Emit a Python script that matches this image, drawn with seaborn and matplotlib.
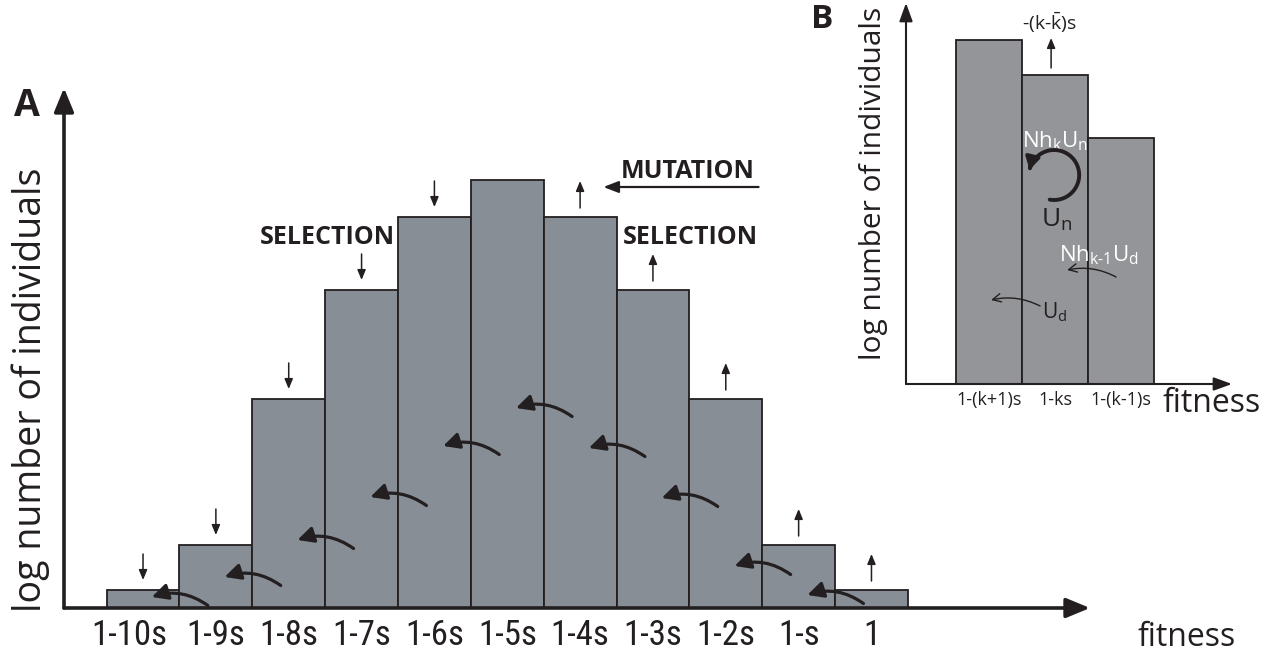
import numpy as np
import pandas as pd
import matplotlib
matplotlib.use('Agg')
import matplotlib.pyplot as plt
import seaborn as sns
from matplotlib.patches import FancyArrowPatch
from matplotlib.path import Path
from matplotlib.transforms import ScaledTranslation
from matplotlib import font_manager as fm

# ---------------- data ----------------
# Panel A
fitness_a = ['1-10s', '1-9s', '1-8s', '1-7s', '1-6s', '1-5s', '1-4s', '1-3s', '1-2s', '1-s', '1']
log_n_a = [1.8, 6.3, 20.9, 31.8, 39.1, 42.8, 39.1, 31.8, 20.9, 6.3, 1.8]
selection_down = [0, 1, 2, 3, 4]
selection_up = [6, 7, 8, 9, 10]
mutation_source = [1, 2, 3, 4, 5, 6, 7, 8, 9, 10]
mutation_height = [1.1, 3.1, 6.8, 11.1, 16.2, 20.0, 16.0, 11.0, 4.2, 1.3]

# Panel B
fitness_b = ['1-(k+1)s', '1-ks', '1-(k-1)s']
log_n_b = [34.45, 30.9, 24.65]

# ---------------- style ----------------
sns.set_style('white')


def has_font(name):
    try:
        fm.findfont(fm.FontProperties(family=name), fallback_to_default=False)
        return True
    except Exception:
        return False


HUM = 'Open Sans' if has_font('Open Sans') else 'DejaVu Sans'

# pick a narrow face for the fitness tick labels
narrow_prop = None
narrow_size = 22
for cand, size in [('Roboto Condensed', 25), ('DejaVu Sans Condensed', 23),
                   ('Liberation Sans Narrow', 24), ('Open Sans Condensed', 24)]:
    if has_font(cand):
        narrow_prop = fm.FontProperties(family=cand)
        narrow_size = size
        break
if narrow_prop is None:
    try:
        f = fm.findfont(fm.FontProperties(family='DejaVu Sans', stretch='condensed'))
        if 'ondensed' in f:
            narrow_prop = fm.FontProperties(fname=f)
            narrow_size = 23
    except Exception:
        pass
if narrow_prop is None:
    narrow_prop = fm.FontProperties(family=HUM)
    narrow_size = 22

plt.rcParams['font.family'] = [HUM, 'DejaVu Sans']
plt.rcParams['mathtext.fontset'] = 'custom'
plt.rcParams['mathtext.rm'] = HUM
plt.rcParams['mathtext.it'] = HUM
plt.rcParams['mathtext.default'] = 'regular'

INK = '#231f20'
BAR_A = '#878e96'
BAR_B = '#939598'

W, H = 1266, 659
fig = plt.figure(figsize=(W / 100, H / 100), dpi=100)
fig.patch.set_facecolor('white')


def fx(px):
    return px / W


def fy(py):
    return 1 - py / H


# ---------------- Panel A ----------------
axA = fig.add_axes([fx(64), fy(608), (1090 - 64) / W, (608 - 88) / H])
axA.set_facecolor('none')
df_a = pd.DataFrame({'fitness': fitness_a, 'log_n': log_n_a})
sns.barplot(data=df_a, x='fitness', y='log_n', order=fitness_a, color=BAR_A,
            saturation=1, edgecolor=INK, linewidth=1.3, width=1.0, ax=axA)
axA.set_xlim(-1.085, 13.0)
axA.set_ylim(0, 52)
for s in axA.spines.values():
    s.set_visible(False)
axA.set_xlabel('')
axA.set_ylabel('')
axA.set_yticks([])
axA.tick_params(axis='x', length=0, pad=8)
for lab in axA.get_xticklabels():
    lab.set_fontproperties(narrow_prop)
    lab.set_fontsize(narrow_size)
    lab.set_color(INK)
first = axA.get_xticklabels()[0]
first.set_transform(first.get_transform() + ScaledTranslation(-0.14, 0, fig.dpi_scale_trans))

axis_style = dict(arrowstyle='-|>,head_length=1.45,head_width=0.6', lw=2.6,
                  color=INK, shrinkA=0, shrinkB=0, mutation_scale=10)
axA.annotate('', xy=(0, 1), xytext=(0, 0), xycoords='axes fraction',
             textcoords='axes fraction', arrowprops=axis_style, annotation_clip=False)
axA.annotate('', xy=(1, 0), xytext=(0, 0), xycoords='axes fraction',
             textcoords='axes fraction', arrowprops=axis_style, annotation_clip=False)

small_arrow = dict(arrowstyle='-|>,head_length=0.6,head_width=0.25', lw=1.1,
                   color=INK, shrinkA=0, shrinkB=0, mutation_scale=10)
for i in selection_down:
    h = log_n_a[i]
    axA.annotate('', xy=(i, h + 1.0), xytext=(i, h + 3.6), arrowprops=small_arrow)
for i in selection_up:
    h = log_n_a[i]
    axA.annotate('', xy=(i, h + 3.6), xytext=(i, h + 0.9), arrowprops=small_arrow)

for src, hy in zip(mutation_source, mutation_height):
    arr = FancyArrowPatch((src - 0.11, hy - 0.85), (src - 0.88, hy),
                          connectionstyle='arc3,rad=0.25',
                          arrowstyle='-|>,head_length=0.8,head_width=0.4',
                          mutation_scale=12, lw=2.3, color=INK,
                          shrinkA=0, shrinkB=0, zorder=4)
    axA.add_patch(arr)

bold = dict(fontfamily=[HUM, 'DejaVu Sans'], fontweight='bold', color=INK,
            ha='center', va='center')
axA.text(2.53, 37.1, 'SELECTION', fontsize=18, **bold)
axA.text(7.51, 37.1, 'SELECTION', fontsize=18, **bold)
axA.text(7.48, 43.7, 'MUTATION', fontsize=18, **bold)
axA.annotate('', xy=(6.32, 42.1), xytext=(8.45, 42.1),
             arrowprops=dict(arrowstyle='-|>,head_length=0.9,head_width=0.35', lw=1.6,
                             color=INK, shrinkA=0, shrinkB=0, mutation_scale=10))

fig.text(fx(27), fy(106), 'A', fontsize=27, **bold)
fig.text(fx(31), fy(390), 'log number of individuals', rotation=90, fontsize=27,
         color=INK, ha='center', va='center')
fig.text(fx(1187), fy(638), 'fitness', fontsize=23, color=INK, ha='center', va='center')

# ---------------- Panel B ----------------
axB = fig.add_axes([fx(906), fy(384), (1232 - 906) / W, (384 - 3) / H])
axB.set_facecolor('none')
df_b = pd.DataFrame({'fitness': fitness_b, 'log_n': log_n_b})
sns.barplot(data=df_b, x='fitness', y='log_n', order=fitness_b, color=BAR_B,
            saturation=1, edgecolor=INK, linewidth=1.3, width=1.0, ax=axB)
axB.set_xlim(-1.258, 3.68)
axB.set_ylim(0, 38.1)
for s in axB.spines.values():
    s.set_visible(False)
axB.set_xlabel('')
axB.set_ylabel('')
axB.set_yticks([])
axB.tick_params(axis='x', length=0, pad=5, labelsize=13, labelcolor=INK)

axis_b = dict(arrowstyle='-|>,head_length=1.1,head_width=0.4', lw=1.5,
              color=INK, shrinkA=0, shrinkB=0, mutation_scale=10)
axB.annotate('', xy=(0, 1), xytext=(0, 0), xycoords='axes fraction',
             textcoords='axes fraction', arrowprops=axis_b, annotation_clip=False)
axB.annotate('', xy=(1, 0), xytext=(0, 0), xycoords='axes fraction',
             textcoords='axes fraction', arrowprops=axis_b, annotation_clip=False)

hb = log_n_b[1]
axB.annotate('', xy=(0.94, hb + 3.7), xytext=(0.94, hb + 0.7), arrowprops=small_arrow)
axB.text(0.92, 36.1, '-(k-$\\bar{k}$)s', fontsize=14, color=INK, ha='center', va='center')

axB.text(1.0, 24.3, r'$Nh_kU_n$', fontsize=16, color='white', ha='center', va='center')
cx, cy, rx, ry = 0.985, 20.9, 0.38, 2.5
theta = np.radians(np.linspace(-100, 168, 80))
curl_path = Path(np.column_stack([cx + rx * np.cos(theta), cy + ry * np.sin(theta)]))
curl = FancyArrowPatch(path=curl_path, arrowstyle='-|>,head_length=0.6,head_width=0.35',
                       mutation_scale=12, lw=2.8, color=INK, zorder=4)
axB.add_patch(curl)
axB.text(1.03, 16.4, r'$U_n$', fontsize=19, color=INK, ha='center', va='center')
axB.text(1.67, 12.9, r'$Nh_{k\text{-}1}U_d$', fontsize=16, color='white',
         ha='center', va='center')
for tail, head in [((1.924, 10.7), (1.182, 11.4)), ((0.773, 7.8), (0.03, 8.4))]:
    axB.add_patch(FancyArrowPatch(tail, head, connectionstyle='arc3,rad=0.18',
                                  arrowstyle='->,head_length=0.6,head_width=0.3',
                                  mutation_scale=10, lw=1.0, color=INK,
                                  shrinkA=0, shrinkB=0, zorder=4))
axB.text(1.0, 7.2, r'$U_d$', fontsize=15, color=INK, ha='center', va='center')

fig.text(fx(822), fy(20), 'B', fontsize=24, **bold)
fig.text(fx(873), fy(183), 'log number of individuals', rotation=90, fontsize=21.5,
         color=INK, ha='center', va='center')
fig.text(fx(1212), fy(403), 'fitness', fontsize=23, color=INK, ha='center', va='center')

fig.savefig('out.png', dpi=100)
